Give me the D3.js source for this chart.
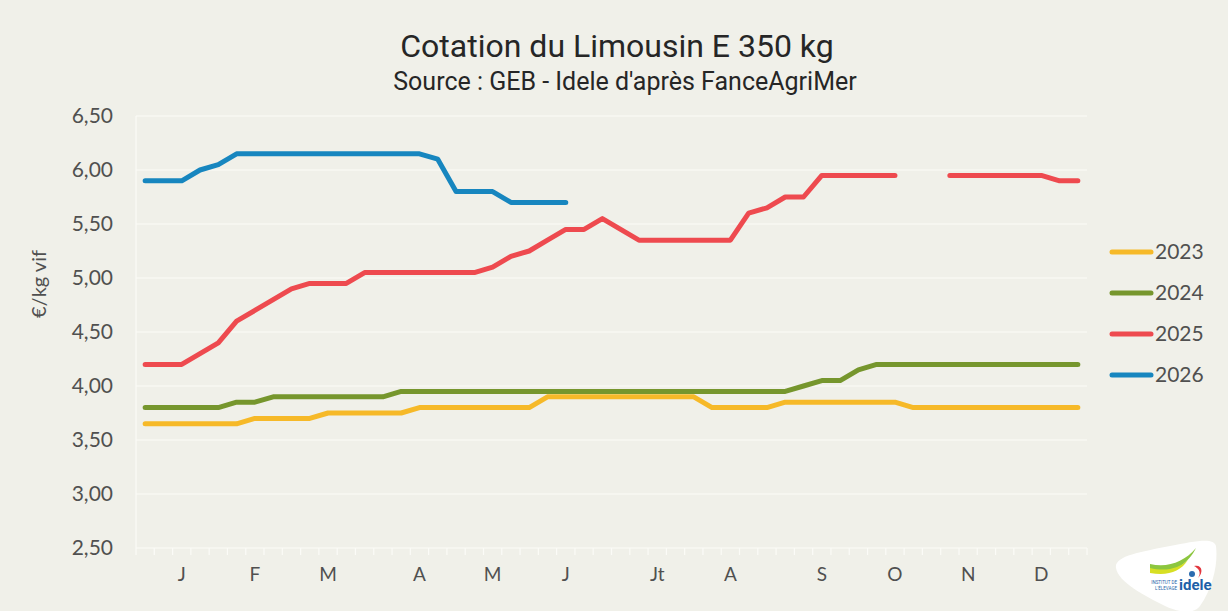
<!DOCTYPE html>
<html>
<head>
<meta charset="utf-8">
<script src="https://cdn.jsdelivr.net/npm/d3@7"></script>
<style>
  html, body { margin: 0; padding: 0; background: #f0f0e9; }
  svg { display: block; }
</style>
</head>
<body>
<svg id="svg" width="1228" height="611"></svg>
<script>
// weekly quotations, 52 weeks, null = no quotation
var weeks = d3.range(52);
var weekLabels = ["", "", "J", "", "", "", "F", "", "", "", "M", "", "", "", "", "A", "", "", "", "M", "", "", "", "J", "", "", "", "", "Jt", "", "", "", "A", "", "", "", "", "S", "", "", "", "O", "", "", "", "N", "", "", "", "D", "", ""];

var y2023 = [3.65, 3.65, 3.65, 3.65, 3.65, 3.65, 3.70, 3.70, 3.70, 3.70, 3.75, 3.75, 3.75, 3.75, 3.75, 3.80, 3.80, 3.80, 3.80, 3.80, 3.80, 3.80, 3.90, 3.90, 3.90, 3.90, 3.90, 3.90, 3.90, 3.90, 3.90, 3.80, 3.80, 3.80, 3.80, 3.85, 3.85, 3.85, 3.85, 3.85, 3.85, 3.85, 3.80, 3.80, 3.80, 3.80, 3.80, 3.80, 3.80, 3.80, 3.80, 3.80];
var y2024 = [3.80, 3.80, 3.80, 3.80, 3.80, 3.85, 3.85, 3.90, 3.90, 3.90, 3.90, 3.90, 3.90, 3.90, 3.95, 3.95, 3.95, 3.95, 3.95, 3.95, 3.95, 3.95, 3.95, 3.95, 3.95, 3.95, 3.95, 3.95, 3.95, 3.95, 3.95, 3.95, 3.95, 3.95, 3.95, 3.95, 4.00, 4.05, 4.05, 4.15, 4.20, 4.20, 4.20, 4.20, 4.20, 4.20, 4.20, 4.20, 4.20, 4.20, 4.20, 4.20];
var y2025 = [4.20, 4.20, 4.20, 4.30, 4.40, 4.60, 4.70, 4.80, 4.90, 4.95, 4.95, 4.95, 5.05, 5.05, 5.05, 5.05, 5.05, 5.05, 5.05, 5.10, 5.20, 5.25, 5.35, 5.45, 5.45, 5.55, 5.45, 5.35, 5.35, 5.35, 5.35, 5.35, 5.35, 5.60, 5.65, 5.75, 5.75, 5.95, 5.95, 5.95, 5.95, 5.95, null, null, 5.95, 5.95, 5.95, 5.95, 5.95, 5.95, 5.90, 5.90];
var y2026 = [5.90, 5.90, 5.90, 6.00, 6.05, 6.15, 6.15, 6.15, 6.15, 6.15, 6.15, 6.15, 6.15, 6.15, 6.15, 6.15, 6.10, 5.80, 5.80, 5.80, 5.70, 5.70, 5.70, 5.70];

var seriesNames = ["2023", "2024", "2025", "2026"];
var seriesColors = ["#f6b928", "#76962d", "#ee4a4f", "#1786bf"];
var yTicks = [2.5, 3, 3.5, 4, 4.5, 5, 5.5, 6, 6.5];

var series = [y2023, y2024, y2025, y2026];

var svg = d3.select("#svg");
var width = 1228, height = 611;
var plotLeft = 136, plotRight = 1087, plotTop = 116, plotBottom = 548;

svg.append("rect").attr("width", width).attr("height", height).attr("fill", "#f0f0e9");

var x = d3.scaleBand().domain(weeks).range([plotLeft, plotRight]).padding(0);
var y = d3.scaleLinear().domain([2.5, 6.5]).range([plotBottom, plotTop]);

// gridlines
svg.append("g")
  .selectAll("line")
  .data(yTicks)
  .join("line")
  .attr("x1", plotLeft)
  .attr("x2", plotRight)
  .attr("y1", d => y(d))
  .attr("y2", d => y(d))
  .attr("stroke", "#fbfbf7")
  .attr("stroke-width", 1.2);

// left border
svg.append("line")
  .attr("x1", plotLeft).attr("x2", plotLeft)
  .attr("y1", plotTop).attr("y2", plotBottom)
  .attr("stroke", "#fbfbf7").attr("stroke-width", 1.2);

// category boundary ticks
var edges = weeks.map(d => x(d)).concat([plotRight]);
svg.append("g")
  .selectAll("line")
  .data(edges)
  .join("line")
  .attr("x1", d => d).attr("x2", d => d)
  .attr("y1", plotBottom).attr("y2", plotBottom + 7)
  .attr("stroke", "#fbfbf7").attr("stroke-width", 1.2);

// y axis
var yAxis = svg.append("g")
  .attr("transform", `translate(${plotLeft}, 0)`)
  .call(d3.axisLeft(y).tickValues(yTicks).tickSize(0).tickPadding(23)
    .tickFormat(d => d.toFixed(2).replace(".", ",")));
yAxis.select(".domain").remove();
yAxis.selectAll("text")
  .attr("fill", "#505050")
  .style("font-family", "Lato, 'Open Sans', sans-serif")
  .style("font-size", "21px");

// x axis
var xAxis = svg.append("g")
  .attr("transform", `translate(0, ${plotBottom})`)
  .call(d3.axisBottom(x).tickSize(0).tickPadding(20).tickFormat((d, i) => weekLabels[i]));
xAxis.select(".domain").remove();
xAxis.selectAll("text")
  .attr("fill", "#505050")
  .style("font-family", "Lato, 'Open Sans', sans-serif")
  .style("font-size", "19px");

// y label
svg.append("text")
  .attr("transform", "translate(46, 284) rotate(-90)")
  .style("text-anchor", "middle")
  .style("font-family", "Lato, 'Open Sans', sans-serif")
  .style("font-size", "20px")
  .attr("fill", "#505050")
  .text("€/kg vif");

// lines
var line = d3.line()
  .defined(d => d != null)
  .x((d, i) => x(i) + x.bandwidth() / 2)
  .y(d => y(d));

svg.append("g")
  .selectAll("path")
  .data(series)
  .join("path")
  .attr("d", d => line(d))
  .attr("fill", "none")
  .attr("stroke", (d, i) => seriesColors[i])
  .attr("stroke-width", 5)
  .attr("stroke-linejoin", "round")
  .attr("stroke-linecap", "round");

// legend
var legend = svg.append("g")
  .selectAll("g")
  .data(seriesNames)
  .join("g")
  .attr("transform", (d, i) => `translate(1112, ${252 + i * 41})`);
legend.append("line")
  .attr("x1", 0).attr("x2", 39)
  .attr("stroke", (d, i) => seriesColors[i])
  .attr("stroke-width", 5)
  .attr("stroke-linecap", "round");
legend.append("text")
  .attr("x", 43)
  .attr("dy", "0.35em")
  .attr("fill", "#505050")
  .style("font-family", "Lato, 'Open Sans', sans-serif")
  .style("font-size", "21px")
  .text(d => d);

// titles
svg.append("text")
  .attr("x", 617).attr("y", 57)
  .style("text-anchor", "middle")
  .style("font-family", "Roboto, sans-serif")
  .style("font-size", "32px")
  .attr("fill", "#262626")
  .text("Cotation du Limousin E 350 kg");
svg.append("text")
  .attr("x", 625).attr("y", 90)
  .style("text-anchor", "middle")
  .style("font-family", "Roboto, sans-serif")
  .style("font-size", "25px")
  .attr("fill", "#262626")
  .text("Source : GEB - Idele d'après FanceAgriMer");

// logo
var logo = svg.append("g").attr("transform", "translate(1110, 538)");
logo.append("path")
  .attr("d", "M6,30 C4,18 30,14 60,8 C85,3 104,-1 106,8 C108,24 104,48 90,68 C84,76 70,75 55,68 C35,58 8,44 6,30 Z")
  .attr("fill", "#ffffff");
logo.append("path")
  .attr("d", "M40,26 C58,30 74,24 86,10 C78,26 62,38 40,33 Z")
  .attr("fill", "#8cc63f");
logo.append("path")
  .attr("d", "M40,30 C56,34 70,30 78,22 C70,34 58,38 40,35 Z")
  .attr("fill", "#d7df23");
logo.append("path")
  .attr("d", "M84,28 C92,26 94,34 88,40 C92,34 88,30 84,28 Z")
  .attr("fill", "#e2363e");
logo.append("circle").attr("cx", 82).attr("cy", 36).attr("r", 3).attr("fill", "#2b6cb0");
logo.append("text")
  .attr("x", 69).attr("y", 52)
  .style("font-family", "Roboto, sans-serif")
  .style("font-weight", "700")
  .style("font-size", "15px")
  .attr("fill", "#1d5fa8")
  .text("idele");
logo.append("text")
  .attr("x", 67).attr("y", 46)
  .style("text-anchor", "end")
  .style("font-family", "Roboto, sans-serif")
  .style("font-size", "4.5px")
  .attr("fill", "#1d5fa8")
  .text("INSTITUT DE");
logo.append("text")
  .attr("x", 67).attr("y", 52)
  .style("text-anchor", "end")
  .style("font-family", "Roboto, sans-serif")
  .style("font-size", "4.5px")
  .attr("fill", "#1d5fa8")
  .text("L'ÉLEVAGE");
</script>
</body>
</html>
